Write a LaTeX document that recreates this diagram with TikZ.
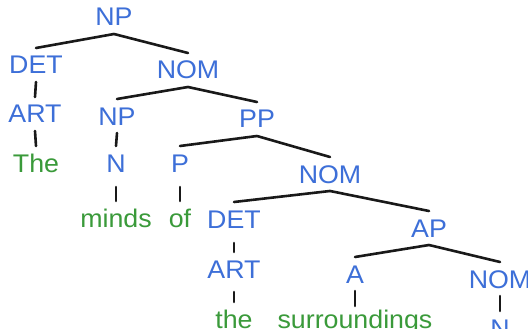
\documentclass[tikz,border=0pt]{standalone}
\usepackage{fontspec}
\setmainfont{Liberation Sans}[FakeStretch=1.05]
\definecolor{catblue}{HTML}{3D6FD8}
\definecolor{wordgreen}{HTML}{3A9A3A}
\tikzset{
  lbl/.style={inner sep=0pt, outer xsep=0pt, outer ysep=8pt, anchor=base,
              text height=18pt, text depth=0pt,
              font=\fontsize{25.5}{28}\selectfont},
  cat/.style={lbl, text=catblue},
  word/.style={lbl, text=wordgreen},
  branch/.style={line width=2.6pt, draw=black!90, line cap=round},
}
\begin{document}
\begin{tikzpicture}[x=1pt, y=-1pt]
  \clip (0,0) rectangle (528,329);
  \fill[white] (0,0) rectangle (528,329);

  % categories and words, placed by baseline
  \node[cat]  (np0)  at (114,26)  {NP};
  \node[cat]  (det1) at (36,74)   {DET};
  \node[cat]  (nom1) at (188,79)  {NOM};
  \node[cat]  (art1) at (35,123)  {ART};
  \node[cat]  (np1)  at (117,125) {NP};
  \node[cat]  (pp)   at (257,128) {PP};
  \node[word] (the1) at (36,172)  {The};
  \node[cat]  (n1)   at (116,172) {N};
  \node[cat]  (p)    at (180,172) {P};
  \node[word] (minds) at (116,227) {minds};
  \node[word] (of)   at (180,227) {of};
  \node[cat]  (det2) at (234,228) {DET};
  \node[cat]  (nom2) at (330,183) {NOM};
  \node[cat]  (ap)   at (429,237) {AP};
  \node[cat]  (art2) at (234,278) {ART};
  \node[cat]  (a)    at (355,283) {A};
  \node[cat]  (nom3) at (500,288) {NOM};
  \node[word] (the2) at (234,328) {the};
  \node[word] (surr) at (355,328) {surroundings};
  \node[cat]  (n3)   at (500,337) {N};

  % branches
  \draw[branch] (np0.south) -- (det1.north);
  \draw[branch] (np0.south) -- (nom1.north);
  \draw[branch] (det1.south) -- (art1.north);
  \draw[branch] (art1.south) -- (the1.north);
  \draw[branch] (nom1.south) -- (np1.north);
  \draw[branch] (nom1.south) -- (pp.north);
  \draw[branch] (np1.south) -- (n1.north);
  \draw[branch] (pp.south) -- (p.north);
  \draw[branch] (pp.south) -- (nom2.north);
  \draw[branch, shorten <=7pt] (n1.south) -- (minds.north);
  \draw[branch, shorten <=7pt] (p.south) -- (of.north);
  \draw[branch] (nom2.south) -- (det2.north);
  \draw[branch] (nom2.south) -- (ap.north);
  \draw[branch, shorten <=7pt] (det2.south) -- (art2.north);
  \draw[branch, shorten <=6pt] (art2.south) -- (the2.north);
  \draw[branch] (ap.south) -- (a.north);
  \draw[branch] (ap.south) -- (nom3.north);
  \draw[branch, shorten >=-4pt] (a.south) -- (surr.north);
  \draw[branch] (nom3.south) -- (n3.north);
\end{tikzpicture}
\end{document}
